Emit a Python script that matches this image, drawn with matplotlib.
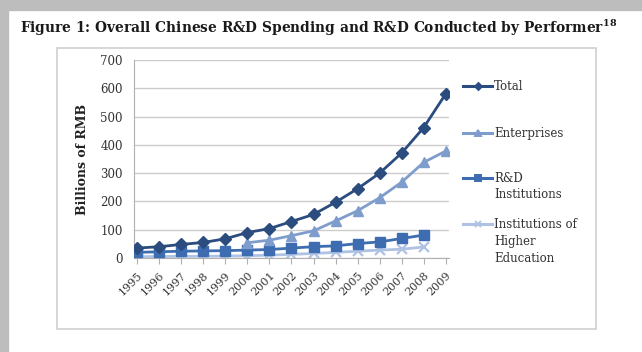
import matplotlib.pyplot as plt
from matplotlib.patches import Rectangle
from matplotlib.lines import Line2D

# data (billions of RMB)
years = list(range(1995, 2010))
total = [35, 40, 48, 55, 68, 90, 104, 129, 154, 197, 245, 300, 371, 461, 580]
ent_years = list(range(2000, 2010))
enterprises = [54, 63, 79, 96, 131, 167, 213, 268, 338, 378]
rd_years = list(range(1995, 2009))
rd_inst = [20, 22, 24, 25, 26, 28, 30, 35, 40, 43, 51, 57, 69, 81]
higher_ed = [5, 5, 6, 6, 7, 8, 10, 13, 16, 20, 24, 28, 31, 39]

c_total = '#2b4c7e'
c_ent = '#7f9dcc'
c_rd = '#3d6db0'
c_he = '#afc2e4'

plt.rcParams['font.family'] = 'DejaVu Serif'
plt.rcParams['mathtext.fontset'] = 'dejavuserif'

fig = plt.figure(figsize=(6.42, 3.52), dpi=100)
W, H = 642, 352

def fx(px):
    return px / W

def fy(py):
    return 1 - py / H

# page shadow on top and left
fig.patches.append(Rectangle((0, fy(10)), 1, 10 / H, transform=fig.transFigure,
                             color='#bdbdbd', zorder=0))
fig.patches.append(Rectangle((0, 0), 8 / W, 1, transform=fig.transFigure,
                             color='#bdbdbd', zorder=0))
# chart frame
fig.patches.append(Rectangle((fx(57), fy(329)), (596 - 57) / W, (329 - 48) / H,
                             transform=fig.transFigure, fill=False,
                             edgecolor='#cfcfcf', lw=1.2, zorder=1))

fig.text(fx(20), fy(28), 'Figure 1: Overall Chinese R&D Spending and R&D Conducted by Performer$^{\\mathbf{18}}$',
         fontsize=9.9, fontweight='bold', va='center', ha='left', color='#1a1a1a')

ax = fig.add_axes([fx(134), fy(258), (449 - 134) / W, (258 - 60) / H])
ax.plot(years, total, color=c_total, lw=2, marker='D', ms=6.5, zorder=5)
ax.plot(ent_years, enterprises, color=c_ent, lw=2, marker='^', ms=7, zorder=4)
ax.plot(rd_years, rd_inst, color=c_rd, lw=2, marker='s', ms=6.5, zorder=3)
ax.plot(rd_years, higher_ed, color=c_he, lw=2, marker='x', ms=6.5, mew=1.6, zorder=2)

ax.set_ylim(0, 700)
ax.set_xlim(1994.85, 2009.15)
ax.set_yticks(range(0, 701, 100))
ax.set_xticks(years)
ax.set_xticklabels([str(y) for y in years], rotation=45, ha='right', va='top',
                   rotation_mode='anchor', fontsize=8, color='#333333')
ax.tick_params(axis='y', labelsize=8.5, colors='#333333', length=0, pad=8)
ax.tick_params(axis='x', length=4, color='#b0b0b0', pad=5)
ax.grid(axis='y', color='#cccccc', lw=1)
ax.set_axisbelow(True)
for s in ['top', 'right']:
    ax.spines[s].set_visible(False)
ax.spines['left'].set_color('#b0b0b0')
ax.spines['bottom'].set_color('#b0b0b0')
ax.set_ylabel('Billions of RMB', fontsize=9, fontweight='bold', color='#222222', labelpad=8)

# legend drawn by hand so markers sit on the first text line
entries = [
    (86, ['Total'], c_total, 'D', 3.5),
    (133, ['Enterprises'], c_ent, '^', 4),
    (178, ['R&D', 'Institutions'], c_rd, 's', 4),
    (224, ['Institutions of', 'Higher', 'Education'], c_he, 'x', 4),
]
for yp, lines, col, mk, ms in entries:
    fig.add_artist(Line2D([fx(463), fx(492)], [fy(yp), fy(yp)], color=col, lw=2.2,
                          transform=fig.transFigure))
    fig.add_artist(Line2D([fx(477.5)], [fy(yp)], color=col, marker=mk, ms=ms, mew=1.4,
                          transform=fig.transFigure))
    for i, t in enumerate(lines):
        fig.text(fx(494), fy(yp + i * 17), t, fontsize=8.5, va='center', ha='left',
                 color='#333333')

fig.savefig('out.png', dpi=100, facecolor='white')
